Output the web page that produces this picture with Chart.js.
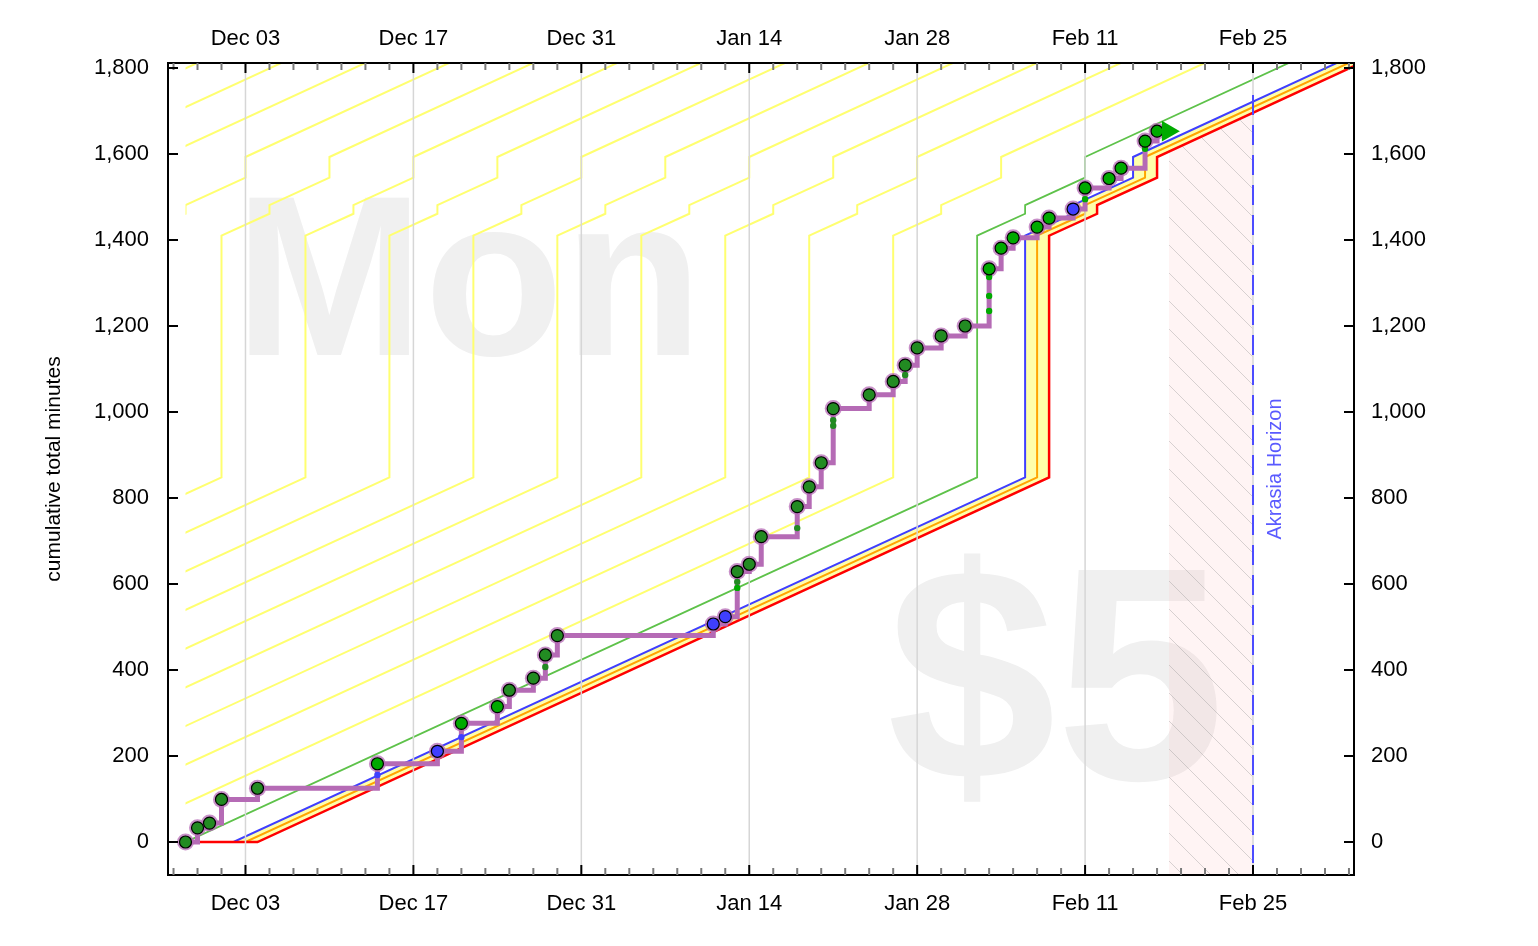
<!DOCTYPE html>
<html lang="en">
  <head>
    <meta charset="UTF-8" />
    <title>cumulative total minutes</title>
    <script src="https://cdn.jsdelivr.net/npm/chart.js@4"></script>
    <style>
      html, body { margin: 0; padding: 0; background: #ffffff; }
      #wrap { width: 1538px; height: 946px; position: relative; }
    </style>
  </head>
  <body>
    <div id="wrap"><canvas id="roadChart"></canvas></div>

    <script>
      // x values are days counted from Dec 03
      const xTickDays = [0, 14, 28, 42, 56, 70, 84];
      const xTickLabels = ["Dec 03", "Dec 17", "Dec 31", "Jan 14", "Jan 28", "Feb 11", "Feb 25"];
      const yTickVals = [0, 200, 400, 600, 800, 1000, 1200, 1400, 1600, 1800];

      // bright red line knots (day, cumulative minutes)
      const roadDays = [-5, 1, 67, 67, 71, 71, 76, 76, 100];
      const roadVals = [0, 0, 848, 1410, 1461, 1481, 1545, 1593, 1902];
      const roadStart = -5;

      // the other guide lines are the red line moved earlier by these many days
      const orangeShift = 1;
      const blueShift = 2;
      const greenShift = 6;
      const yellowShifts = [13, 20, 27, 34, 41, 48, 55, 62, 69, 76, 83, 90, 97];

      // daily datapoints (big dots): d = dark green, g = green, b = blue
      const ptDays = [-5, -4, -3, -2, 1, 11, 16, 18, 21, 22, 24, 25, 26, 39, 40, 41, 42, 43, 46, 47,
                      48, 49, 52, 54, 55, 56, 58, 60, 62, 63, 64, 66, 67, 69, 70, 72, 73, 75, 76];
      const ptVals = [0, 33, 44, 99, 125, 182, 211, 276, 315, 353, 381, 435, 480, 507, 524, 629, 646, 710, 780, 826,
                      882, 1008, 1040, 1071, 1109, 1149, 1177, 1200, 1333, 1381, 1405, 1430, 1451, 1472, 1521, 1543, 1567, 1630, 1653];
      const ptKind = ["d", "d", "d", "d", "d", "g", "b", "g", "g", "d", "d", "d", "d", "b", "b", "d", "d", "d", "d", "d",
                      "d", "d", "d", "d", "d", "d", "d", "d", "g", "g", "g", "g", "g", "b", "g", "g", "g", "g", "g"];

      // intermediate entries inside a day (small dots)
      const dotDays = [11, 18, 25, 41, 41, 46, 49, 49, 55, 62, 62, 62, 70, 75];
      const dotVals = [156, 244, 407, 591, 605, 730, 968, 981, 1086, 1235, 1270, 1314, 1495, 1612];
      const dotKind = ["b", "b", "d", "g", "d", "d", "d", "d", "d", "g", "g", "g", "g", "g"];

      const akrasiaDay = 84;
      const akrasiaTop = 1737;
      const akrasiaBottom = -49;
      const pinkFrom = 77;
      const arrowDay = 76.9;
      const arrowVal = 1653;
      const goalText = "Mon";
      const pledgeText = "$5";

      const xMin = -6.46, xMax = 92.42;
      const yMin = -76.7, yMax = 1811.6;

      const fontFamily = "'Liberation Sans', Arial, Helvetica, sans-serif";
      const dotColor = { d: "#228b22", g: "#00aa00", b: "#3f3fff" };

      const shifted = (s) => roadDays.map((d, i) => ({ x: d - s, y: roadVals[i] }));
      const pts = ptDays.map((d, i) => ({ x: d, y: ptVals[i] }));
      const dots = dotDays.map((d, i) => ({ x: d, y: dotVals[i] }));

      function guide(label, data, color, width, order, extra) {
        return Object.assign({
          label: label, data: data, showLine: true, borderColor: color, borderWidth: width,
          pointRadius: 0, fill: false, order: order, clipDays: [roadStart, null],
        }, extra || {});
      }

      function hatchPattern() {
        const c = document.createElement("canvas");
        c.width = 28; c.height = 28;
        const g = c.getContext("2d");
        g.fillStyle = "rgba(255,170,170,0.13)";
        g.fillRect(0, 0, 28, 28);
        g.strokeStyle = "rgba(150,150,150,0.38)";
        g.lineWidth = 1;
        g.beginPath();
        g.moveTo(-2, -2); g.lineTo(30, 30);
        g.moveTo(-2, 26); g.lineTo(2, 30);
        g.moveTo(26, -2); g.lineTo(30, 2);
        g.stroke();
        return g.createPattern(c, "repeat");
      }

      const fmt = (v) => String(v).replace(/\B(?=(\d{3})+(?!\d))/g, ",");

      function drawGrid(chart) {
        const ctx = chart.ctx, xs = chart.scales.x, ca = chart.chartArea;
        ctx.save();
        ctx.strokeStyle = "#d6d6d6";
        ctx.lineWidth = 1.5;
        xTickDays.forEach((d) => {
          const px = xs.getPixelForValue(d);
          ctx.beginPath(); ctx.moveTo(px, ca.top); ctx.lineTo(px, ca.bottom); ctx.stroke();
        });
        ctx.restore();
      }

      // watermarks, clipping of guide lines, grid, akrasia label, inward ticks
      const roadPlugin = {
        id: "roadPlugin",
        beforeDraw(chart) {
          const ctx = chart.ctx, ca = chart.chartArea;
          const h = ca.bottom - ca.top;
          ctx.save();
          ctx.fillStyle = "#f0f0f0";
          ctx.textAlign = "center";
          ctx.textBaseline = "alphabetic";
          ctx.font = "bold 228px " + fontFamily;
          ctx.fillText(goalText, (3 * ca.left + ca.right) / 4 + 4, ca.top + h * 0.36);
          ctx.font = "bold 304px " + fontFamily;
          ctx.fillText(pledgeText, (ca.left + 3 * ca.right) / 4 - 1.5, ca.top + h * 0.882);
          ctx.restore();
        },
        beforeDatasetsDraw(chart) {
          chart.data.datasets.forEach((ds) => {
            if (!ds.fillClipDays) return;
            const xs = chart.scales.x, ctx = chart.ctx;
            const l = xs.getPixelForValue(ds.fillClipDays[0]);
            const r = xs.getPixelForValue(ds.fillClipDays[1]);
            ctx.save();
            ctx.beginPath(); ctx.rect(l, 0, r - l, chart.height); ctx.clip();
          });
        },
        beforeDatasetDraw(chart, args) {
          const ds = chart.data.datasets[args.index];
          if (!ds.clipDays) return;
          const xs = chart.scales.x, ctx = chart.ctx, ca = chart.chartArea;
          const l = xs.getPixelForValue(ds.clipDays[0]);
          const r = ds.clipDays[1] == null ? ca.right + 10 : xs.getPixelForValue(ds.clipDays[1]);
          ctx.save();
          ctx.beginPath(); ctx.rect(l, 0, r - l, chart.height); ctx.clip();
        },
        afterDatasetDraw(chart, args) {
          const ds = chart.data.datasets[args.index];
          if (ds.clipDays || ds.fillClipDays) chart.ctx.restore();
          if (ds.gridAfter) drawGrid(chart);
        },
        afterDatasetsDraw(chart) {
          const ctx = chart.ctx, ca = chart.chartArea, xs = chart.scales.x;
          ctx.save();
          ctx.translate(xs.getPixelForValue(akrasiaDay) + 22, (ca.top + ca.bottom) / 2);
          ctx.rotate(-Math.PI / 2);
          ctx.fillStyle = "#5a5aff";
          ctx.font = "20px " + fontFamily;
          ctx.textAlign = "center";
          ctx.textBaseline = "middle";
          ctx.fillText("Akrasia Horizon", 0, 0);
          ctx.restore();
        },
        afterDraw(chart) {
          const ctx = chart.ctx, ca = chart.chartArea;
          const xs = chart.scales.x, ys = chart.scales.y;
          const seg = (x1, y1, x2, y2) => { ctx.beginPath(); ctx.moveTo(x1, y1); ctx.lineTo(x2, y2); ctx.stroke(); };
          ctx.save();
          ctx.lineWidth = 2;
          for (let d = -6; d <= 92; d += 2) {
            const px = xs.getPixelForValue(d);
            const major = xTickDays.includes(d);
            const len = major ? 10 : 7;
            ctx.strokeStyle = major ? "#000000" : "#7a7a7a";
            seg(px, ca.bottom, px, ca.bottom - len);
            seg(px, ca.top, px, ca.top + len);
          }
          ctx.strokeStyle = "#000000";
          yTickVals.forEach((v) => {
            const py = ys.getPixelForValue(v);
            seg(ca.left, py, ca.left + 10, py);
            seg(ca.right, py, ca.right - 10, py);
          });
          ctx.restore();
        },
      };

      const datasets = [
        { label: "arrow", data: [{ x: arrowDay, y: arrowVal }], showLine: false, pointStyle: "triangle",
          rotation: 90, pointRadius: 12, pointBackgroundColor: "#00aa00", pointBorderWidth: 0, order: 0 },
        { label: "datapoints", data: pts, showLine: false, pointRadius: 6,
          pointBackgroundColor: ptKind.map((k) => dotColor[k]), pointBorderColor: "#000000", pointBorderWidth: 1.2, order: 1 },
        { label: "raw", data: dots, showLine: false, pointRadius: 3.2,
          pointBackgroundColor: dotKind.map((k) => dotColor[k]), pointBorderWidth: 0, order: 2 },
        { label: "progress", data: pts, showLine: true, stepped: "before", borderColor: "#b56bb5", borderWidth: 5,
          pointRadius: 8.5, pointBackgroundColor: "rgba(181,107,181,0.75)", pointBorderWidth: 0, fill: false, order: 3 },
        { label: "akrasia", data: [{ x: akrasiaDay, y: akrasiaTop }, { x: akrasiaDay, y: akrasiaBottom }], showLine: true,
          borderColor: "#4c4cff", borderWidth: 2, borderDash: [20, 10], pointRadius: 0, fill: false, order: 4 },
        guide("red", shifted(0), "#ff0000", 2.5, 5, { gridAfter: true }),
        guide("orange", shifted(orangeShift), "#ffa500", 2, 6),
        guide("blue", shifted(blueShift), "#3f3fff", 2, 7),
        guide("green", shifted(greenShift), "#5ec24a", 1.8, 8),
      ];
      yellowShifts.forEach((s) => datasets.push(guide("yellow", shifted(s), "#ffff70", 2, 9)));
      datasets.push({
        label: "lane", data: shifted(0).concat(shifted(blueShift).reverse()), showLine: true, fill: "shape",
        backgroundColor: "#ffffaa", borderColor: "rgba(0,0,0,0)", borderWidth: 0, pointRadius: 0, order: 10,
      });
      datasets.push({
        label: "pink", data: shifted(0), showLine: true, fill: "start", backgroundColor: hatchPattern(),
        borderColor: "rgba(0,0,0,0)", borderWidth: 0, pointRadius: 0, order: 11, fillClipDays: [pinkFrom, akrasiaDay],
      });

      const tickFont = { family: fontFamily, size: 22 };
      const xAxis = (position, height, padding) => ({
        type: "linear", axis: "x", position: position, min: xMin, max: xMax, bounds: "data",
        afterBuildTicks: (s) => { s.ticks = xTickDays.map((v) => ({ value: v })); },
        afterFit: (s) => { s.height = height; },
        grid: { display: false, drawTicks: false },
        border: { display: true, color: "#000000", width: 2, z: 1 },
        ticks: { font: tickFont, color: "#000000", padding: padding, maxRotation: 0, autoSkip: false,
                 callback: (v) => xTickLabels[xTickDays.indexOf(v)] },
      });
      const yAxis = (position, width, padding) => ({
        type: "linear", axis: "y", position: position, min: yMin, max: yMax, bounds: "data",
        afterBuildTicks: (s) => { s.ticks = yTickVals.map((v) => ({ value: v })); },
        afterFit: (s) => { s.width = width; },
        grid: { display: false, drawTicks: false },
        border: { display: true, color: "#000000", width: 2, z: 1 },
        ticks: { font: tickFont, color: "#000000", padding: padding, autoSkip: false, callback: (v) => fmt(v) },
      });

      const scales = {
        x: xAxis("bottom", 71, 16),
        x2: xAxis("top", 63, 11),
        y: yAxis("left", 168, 19),
        y2: yAxis("right", 184, 17),
      };
      scales.y.title = {
        display: true, text: "cumulative total minutes", color: "#000000",
        font: { family: fontFamily, size: 21 }, padding: { top: 42, bottom: 0 },
      };

      const roadChart = new Chart(document.getElementById("roadChart"), {
        type: "line",
        data: { datasets: datasets },
        options: {
          responsive: true,
          maintainAspectRatio: false,
          animation: false,
          events: [],
          layout: { padding: 0 },
          plugins: { legend: { display: false }, tooltip: { enabled: false } },
          scales: scales,
        },
        plugins: [roadPlugin],
      });
    </script>
  </body>
</html>
